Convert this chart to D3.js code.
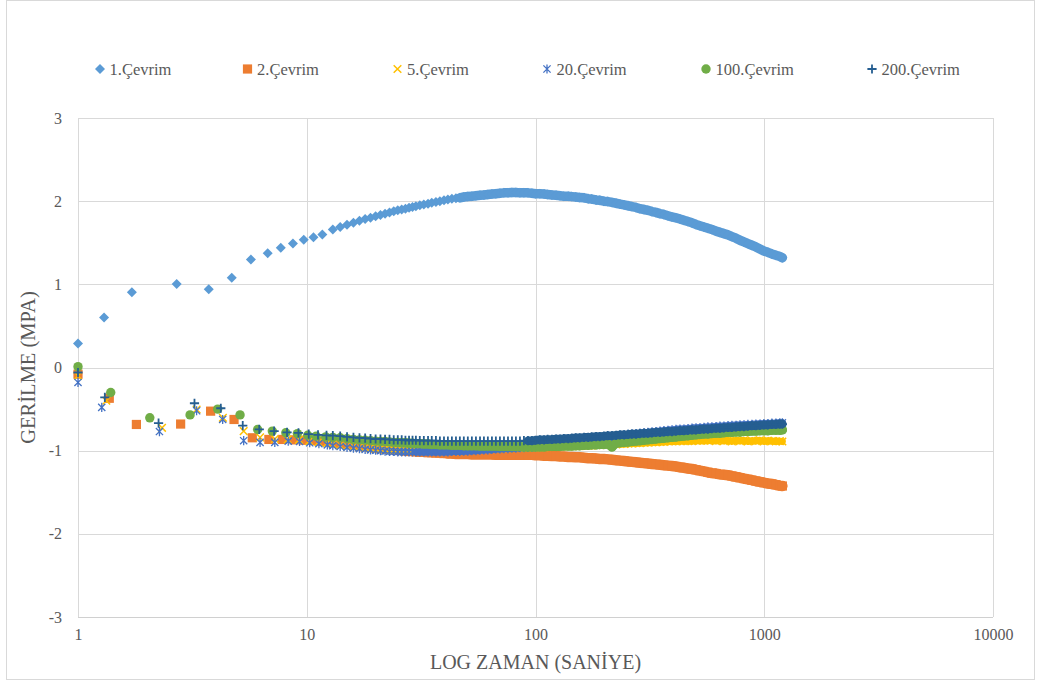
<!DOCTYPE html>
<html>
<head>
<meta charset="utf-8">
<script src="https://cdn.jsdelivr.net/npm/d3@7"></script>
<style>
  html, body { margin: 0; padding: 0; background: #ffffff; }
  svg { display: block; }
  text { font-family: "Liberation Serif", "Times New Roman", serif; fill: #595959; }
</style>
</head>
<body>
<svg id="chart" width="1038" height="684"></svg>
<script>
// ---- Stress relaxation readings: time (s) vs. stress (MPa) per loading cycle ----
const cycleNames = ["1.Çevrim", "2.Çevrim", "5.Çevrim", "20.Çevrim", "100.Çevrim", "200.Çevrim"];

// First seconds of each test (sampling instants differ slightly per cycle)
const c1StartTime   = [1, 1.3, 1.72, 2.7, 3.73, 4.7, 5.7, 6.75, 7.7, 8.7, 9.7, 10.7, 11.7];
const c1StartStress = [0.29, 0.60, 0.905, 1.005, 0.94, 1.08, 1.30, 1.375, 1.44, 1.49, 1.535, 1.567, 1.60];
const c2StartTime   = [1, 1.37, 1.80, 2.81, 3.80, 4.81, 5.78, 6.83, 7.82, 8.8, 9.8, 10.8, 11.8];
const c2StartStress = [-0.08, -0.37, -0.685, -0.68, -0.525, -0.625, -0.845, -0.865, -0.865, -0.87, -0.875, -0.88, -0.89];
const c5StartTime   = [1, 1.33, 2.33, 3.30, 4.30, 5.30, 6.25, 7.25, 8.25, 9.25, 10.25, 11.25, 12.25];
const c5StartStress = [-0.10, -0.40, -0.725, -0.505, -0.605, -0.765, -0.84, -0.86, -0.865, -0.87, -0.885, -0.90, -0.91];
const c20StartTime   = [1, 1.27, 2.27, 3.3, 4.29, 5.3, 6.25, 7.25, 8.3, 9.3, 10.3, 11.3, 12.3];
const c20StartStress = [-0.18, -0.48, -0.77, -0.52, -0.625, -0.88, -0.90, -0.90, -0.885, -0.89, -0.905, -0.915, -0.93];
const c100StartTime   = [1, 1.39, 2.06, 3.09, 4.08, 5.11, 6.1, 7.07, 8.1, 9.1, 10.1, 11.0, 12.1];
const c100StartStress = [0.01, -0.30, -0.605, -0.57, -0.50, -0.57, -0.745, -0.765, -0.785, -0.795, -0.815, -0.825, -0.835];
const c200StartTime   = [1, 1.31, 2.25, 3.23, 4.21, 5.25, 6.2, 7.2, 8.2, 9.2, 10.2, 11.2, 12.2];
const c200StartStress = [-0.06, -0.36, -0.67, -0.43, -0.49, -0.70, -0.745, -0.765, -0.78, -0.785, -0.80, -0.81, -0.815];

// Common reading instants from 13 s to the end of the test
const gridTime = [
  13, 14, 15, 16, 17, 18, 19, 20, 21, 22, 23, 24, 25, 26, 27, 28, 29, 30,
  31.2, 32.5, 33.9, 35.2, 36.7, 38.2, 39.8, 41.4, 43.1, 44.9,
  46.7, 48.6, 50.6, 52.7, 54.9, 57.2, 59.5, 61.9, 64.5, 67.1,
  69.9, 72.8, 75.8, 78.9, 82.1, 85.5, 89, 92.7, 96.5, 100,
  104.5, 109, 113, 118, 123, 128, 133, 139, 144, 150,
  156, 163, 170, 176, 184, 191, 199, 207, 216, 225,
  234, 244, 254, 264, 275, 286, 298, 310, 323, 336,
  350, 364, 379, 395, 411, 428, 445, 464, 483, 503,
  523, 545, 567, 590, 615, 640, 666, 694, 722, 752,
  783, 815, 848, 883, 919, 957, 996, 1037, 1080, 1124,
  1170, 1200
];

const c1Stress = [
  1.66, 1.69, 1.715, 1.74, 1.765, 1.785, 1.80, 1.82, 1.835, 1.85, 1.865, 1.88, 1.89, 1.90, 1.91, 1.92, 1.93, 1.94,
  1.95, 1.96, 1.97, 1.98, 1.99, 2.00, 2.01, 2.02, 2.03, 2.035,
  2.04, 2.05, 2.055, 2.06, 2.065, 2.07, 2.075, 2.08, 2.085, 2.09,
  2.095, 2.10, 2.10, 2.105, 2.105, 2.10, 2.10, 2.10, 2.095, 2.09,
  2.09, 2.085, 2.08, 2.075, 2.07, 2.065, 2.06, 2.06, 2.055, 2.05,
  2.045, 2.04, 2.03, 2.025, 2.015, 2.01, 2.00, 1.995, 1.985, 1.975,
  1.965, 1.955, 1.945, 1.935, 1.925, 1.91, 1.90, 1.89, 1.875, 1.865,
  1.85, 1.84, 1.825, 1.81, 1.80, 1.785, 1.77, 1.755, 1.74, 1.72,
  1.705, 1.69, 1.675, 1.66, 1.64, 1.625, 1.61, 1.595, 1.575, 1.555,
  1.53, 1.51, 1.49, 1.47, 1.45, 1.425, 1.40, 1.385, 1.365, 1.35,
  1.335, 1.32
];
const c2Stress = [
  -0.905, -0.915, -0.925, -0.935, -0.945, -0.955, -0.96, -0.97, -0.975, -0.98, -0.985, -0.99, -0.995, -1.0, -1.005, -1.01, -1.01, -1.015,
  -1.02, -1.02, -1.025, -1.025, -1.03, -1.03, -1.035, -1.035, -1.035, -1.04,
  -1.04, -1.04, -1.04, -1.045, -1.045, -1.045, -1.045, -1.045, -1.045, -1.05,
  -1.05, -1.05, -1.05, -1.05, -1.05, -1.05, -1.05, -1.05, -1.05, -1.055,
  -1.055, -1.06, -1.06, -1.065, -1.065, -1.07, -1.07, -1.075, -1.075, -1.08,
  -1.08, -1.085, -1.09, -1.09, -1.095, -1.10, -1.10, -1.105, -1.11, -1.115,
  -1.12, -1.125, -1.13, -1.135, -1.14, -1.145, -1.15, -1.155, -1.16, -1.165,
  -1.17, -1.175, -1.18, -1.185, -1.19, -1.20, -1.205, -1.215, -1.22, -1.23,
  -1.24, -1.25, -1.26, -1.27, -1.275, -1.285, -1.29, -1.295, -1.305, -1.315,
  -1.325, -1.335, -1.345, -1.355, -1.365, -1.375, -1.385, -1.395, -1.40, -1.41,
  -1.42, -1.425
];
const c5Stress = [
  -0.925, -0.94, -0.95, -0.955, -0.965, -0.97, -0.975, -0.98, -0.985, -0.99, -0.99, -0.995, -0.995, -1.0, -1.0, -1.0, -1.0, -1.0,
  -1.0, -1.0, -1.0, -1.0, -1.0, -1.0, -1.0, -1.0, -0.995, -0.995,
  -0.995, -0.99, -0.99, -0.99, -0.985, -0.985, -0.985, -0.98, -0.98, -0.98,
  -0.975, -0.975, -0.975, -0.97, -0.97, -0.97, -0.965, -0.965, -0.965, -0.96,
  -0.96, -0.96, -0.955, -0.955, -0.955, -0.95, -0.95, -0.95, -0.945, -0.945,
  -0.945, -0.94, -0.94, -0.94, -0.935, -0.935, -0.93, -0.93, -0.925, -0.925,
  -0.92, -0.92, -0.915, -0.915, -0.91, -0.91, -0.905, -0.905, -0.90, -0.90,
  -0.895, -0.895, -0.89, -0.89, -0.89, -0.885, -0.885, -0.885, -0.885, -0.88,
  -0.88, -0.88, -0.88, -0.875, -0.885, -0.87, -0.885, -0.875, -0.89, -0.875,
  -0.885, -0.875, -0.89, -0.88, -0.885, -0.875, -0.89, -0.88, -0.885, -0.89,
  -0.885, -0.89
];
const c20Stress = [
  -0.94, -0.95, -0.96, -0.97, -0.975, -0.985, -0.99, -0.995, -1.0, -1.005, -1.01, -1.01, -1.015, -1.015, -1.015, -1.015, -1.015, -1.015,
  -1.015, -1.015, -1.015, -1.015, -1.015, -1.015, -1.015, -1.015, -1.01, -1.01,
  -1.01, -1.005, -1.005, -1.0, -1.0, -0.995, -0.99, -0.99, -0.985, -0.98,
  -0.98, -0.975, -0.975, -0.97, -0.97, -0.965, -0.965, -0.96, -0.96, -0.955,
  -0.95, -0.945, -0.94, -0.935, -0.93, -0.92, -0.915, -0.91, -0.905, -0.895,
  -0.89, -0.885, -0.875, -0.87, -0.86, -0.855, -0.845, -0.84, -0.835, -0.825,
  -0.82, -0.81, -0.805, -0.80, -0.795, -0.79, -0.785, -0.78, -0.775, -0.77,
  -0.765, -0.76, -0.755, -0.75, -0.745, -0.74, -0.74, -0.735, -0.73, -0.725,
  -0.725, -0.72, -0.715, -0.715, -0.71, -0.705, -0.705, -0.70, -0.695, -0.695,
  -0.69, -0.69, -0.685, -0.685, -0.68, -0.68, -0.675, -0.675, -0.67, -0.67,
  -0.665, -0.665
];
const c100Stress = [
  -0.84, -0.845, -0.855, -0.865, -0.87, -0.875, -0.88, -0.885, -0.89, -0.89, -0.895, -0.90, -0.90, -0.905, -0.905, -0.91, -0.91, -0.915,
  -0.915, -0.92, -0.92, -0.925, -0.925, -0.93, -0.93, -0.93, -0.935, -0.935,
  -0.935, -0.94, -0.94, -0.94, -0.94, -0.945, -0.945, -0.945, -0.945, -0.945,
  -0.95, -0.95, -0.95, -0.95, -0.95, -0.95, -0.955, -0.955, -0.955, -0.955,
  -0.955, -0.955, -0.95, -0.95, -0.95, -0.95, -0.945, -0.945, -0.945, -0.94,
  -0.94, -0.935, -0.935, -0.93, -0.93, -0.925, -0.925, -0.92, -0.955, -0.91,
  -0.905, -0.90, -0.895, -0.89, -0.885, -0.88, -0.875, -0.87, -0.865, -0.86,
  -0.855, -0.85, -0.845, -0.84, -0.835, -0.83, -0.825, -0.82, -0.815, -0.81,
  -0.805, -0.80, -0.80, -0.795, -0.79, -0.79, -0.785, -0.78, -0.78, -0.775,
  -0.775, -0.77, -0.77, -0.765, -0.765, -0.76, -0.76, -0.76, -0.755, -0.755,
  -0.755, -0.75
];
const c200Stress = [
  -0.82, -0.825, -0.835, -0.84, -0.845, -0.85, -0.855, -0.86, -0.86, -0.865, -0.865, -0.87, -0.87, -0.87, -0.875, -0.875, -0.875, -0.875,
  -0.88, -0.88, -0.88, -0.88, -0.88, -0.885, -0.885, -0.885, -0.885, -0.885,
  -0.885, -0.885, -0.885, -0.885, -0.885, -0.885, -0.885, -0.885, -0.885, -0.885,
  -0.885, -0.885, -0.885, -0.885, -0.885, -0.885, -0.88, -0.88, -0.88, -0.875,
  -0.87, -0.87, -0.865, -0.865, -0.86, -0.86, -0.855, -0.855, -0.85, -0.845,
  -0.845, -0.84, -0.84, -0.835, -0.83, -0.83, -0.825, -0.82, -0.82, -0.815,
  -0.81, -0.81, -0.805, -0.80, -0.80, -0.795, -0.79, -0.79, -0.785, -0.78,
  -0.78, -0.775, -0.77, -0.77, -0.765, -0.76, -0.76, -0.755, -0.75, -0.75,
  -0.745, -0.74, -0.74, -0.735, -0.73, -0.73, -0.725, -0.72, -0.72, -0.715,
  -0.71, -0.71, -0.705, -0.70, -0.70, -0.695, -0.69, -0.69, -0.685, -0.685,
  -0.68, -0.68
];

const xTickValues = [1, 10, 100, 1000, 10000];
const yTickValues = [-3, -2, -1, 0, 1, 2, 3];

// ---- Layout ----
const plot = { left: 78, right: 993, top: 118, bottom: 617 };

const svg = d3.select("#chart");

// outer chart frame
svg.append("rect")
  .attr("x", 6.5).attr("y", 0.5)
  .attr("width", 1028).attr("height", 679)
  .attr("fill", "#ffffff").attr("stroke", "#d9d9d9").attr("stroke-width", 1);

const x = d3.scaleLog().domain([1, 10000]).range([plot.left, plot.right]);
const y = d3.scaleLinear().domain([-3, 3]).range([plot.bottom, plot.top]);

// gridlines
const grid = svg.append("g").attr("class", "grid");
grid.selectAll("line.h").data(yTickValues).join("line")
  .attr("class", "h")
  .attr("x1", plot.left).attr("x2", plot.right)
  .attr("y1", d => Math.round(y(d)) + 0.5).attr("y2", d => Math.round(y(d)) + 0.5)
  .attr("stroke", d => d === -3 ? "#d0d0d0" : "#d9d9d9").attr("stroke-width", 1);
grid.selectAll("line.v").data(xTickValues).join("line")
  .attr("class", "v")
  .attr("y1", plot.top).attr("y2", plot.bottom)
  .attr("x1", d => Math.round(x(d)) + 0.5).attr("x2", d => Math.round(x(d)) + 0.5)
  .attr("stroke", "#d9d9d9").attr("stroke-width", 1);

// axes (labels only, lines are the gridlines above); plain hyphen for negatives
const plainNumber = d => String(d);
const xAxis = d3.axisBottom(x).tickValues(xTickValues).tickFormat(plainNumber).tickSize(0).tickPadding(12);
const xg = svg.append("g").attr("transform", `translate(0,${plot.bottom})`).call(xAxis);
xg.select(".domain").remove();
xg.selectAll("text").attr("font-size", 16).style("fill", "#595959")
  .attr("font-family", '"Liberation Serif", serif');

const yAxis = d3.axisLeft(y).tickValues(yTickValues).tickFormat(plainNumber).tickSize(0).tickPadding(16);
const yg = svg.append("g").attr("transform", `translate(${plot.left},0)`).call(yAxis);
yg.select(".domain").remove();
yg.selectAll("text").attr("font-size", 16).style("fill", "#595959")
  .attr("font-family", '"Liberation Serif", serif');

// axis titles
svg.append("text")
  .attr("x", (plot.left + plot.right) / 2).attr("y", 669)
  .attr("text-anchor", "middle").attr("font-size", 20)
  .text("LOG ZAMAN (SANİYE)");
svg.append("text")
  .attr("transform", `translate(35,${(plot.top + plot.bottom) / 2}) rotate(-90)`)
  .attr("text-anchor", "middle").attr("font-size", 20.5)
  .text("GERİLME (MPA)");

// ---- marker shapes per cycle; band = width of the merged trail where readings crowd ----
const markers = [
  { color: "#5B9BD5", d: "M0,-5L5,0L0,5L-5,0Z", fill: true, band: 9.5, bandFrom: 45 },
  { color: "#ED7D31", d: "M-4.6,-4.6H4.6V4.6H-4.6Z", fill: true, band: 10.5, bandFrom: 40 },
  { color: "#FFC000", d: "M-3.8,-3.8L3.8,3.8M-3.8,3.8L3.8,-3.8", fill: false, sw: 1.5, band: 7, bandFrom: 30 },
  { color: "#4472C4", d: "M-3.6,-3.6L3.6,3.6M-3.6,3.6L3.6,-3.6M0,-4.6V4.6", fill: false, sw: 1.3, band: 7, bandFrom: 30 },
  { color: "#70AD47", d: d3.symbol(d3.symbolCircle, Math.PI * 4.7 * 4.7)(), fill: true, band: 9, bandFrom: 25 },
  { color: "#255E91", d: "M-4.6,0H4.6M0,-4.6V4.6", fill: false, sw: 1.8, band: 8.5, bandFrom: 90 }
];

function styleMarker(sel, m) {
  sel.attr("d", m.d)
    .attr("fill", m.fill ? m.color : "none")
    .attr("stroke", m.fill ? "none" : m.color)
    .attr("stroke-width", m.sw || 0);
}

const startTimes = [c1StartTime, c2StartTime, c5StartTime, c20StartTime, c100StartTime, c200StartTime];
const startStress = [c1StartStress, c2StartStress, c5StartStress, c20StartStress, c100StartStress, c200StartStress];
const gridStress = [c1Stress, c2Stress, c5Stress, c20Stress, c100Stress, c200Stress];

const seriesData = cycleNames.map((name, i) => {
  const pts = startTimes[i].map((t, k) => ({ t, v: startStress[i][k] }));
  gridTime.forEach((t, k) => {
    if (gridStress[i][k] !== undefined) pts.push({ t, v: gridStress[i][k] });
  });
  return { name, pts, marker: markers[i] };
});

const trail = d3.line().x(d => x(d.t)).y(d => y(d.v));

const layer = svg.append("g").attr("class", "series");
seriesData.forEach(s => {
  const g = layer.append("g");
  // crowded readings merge into a solid trail
  g.append("path")
    .datum(s.pts.filter(d => d.t >= s.marker.bandFrom))
    .attr("d", trail)
    .attr("fill", "none")
    .attr("stroke", s.marker.color)
    .attr("stroke-width", s.marker.band)
    .attr("stroke-linejoin", "round")
    .attr("stroke-linecap", "round");
  g.selectAll("path.pt").data(s.pts).join("path")
    .attr("class", "pt")
    .attr("transform", d => `translate(${x(d.t)},${y(d.v)})`)
    .call(styleMarker, s.marker);
});

// ---- legend ----
const legendX = [100, 247.5, 397.5, 547, 706, 872];
const legend = svg.append("g").attr("class", "legend");
seriesData.forEach((s, i) => {
  const g = legend.append("g").attr("transform", `translate(${legendX[i]},69)`);
  g.append("path").call(styleMarker, s.marker);
  g.append("text").attr("x", 9.5).attr("y", 6)
    .attr("font-size", 16.5).text(s.name);
});
</script>
</body>
</html>
